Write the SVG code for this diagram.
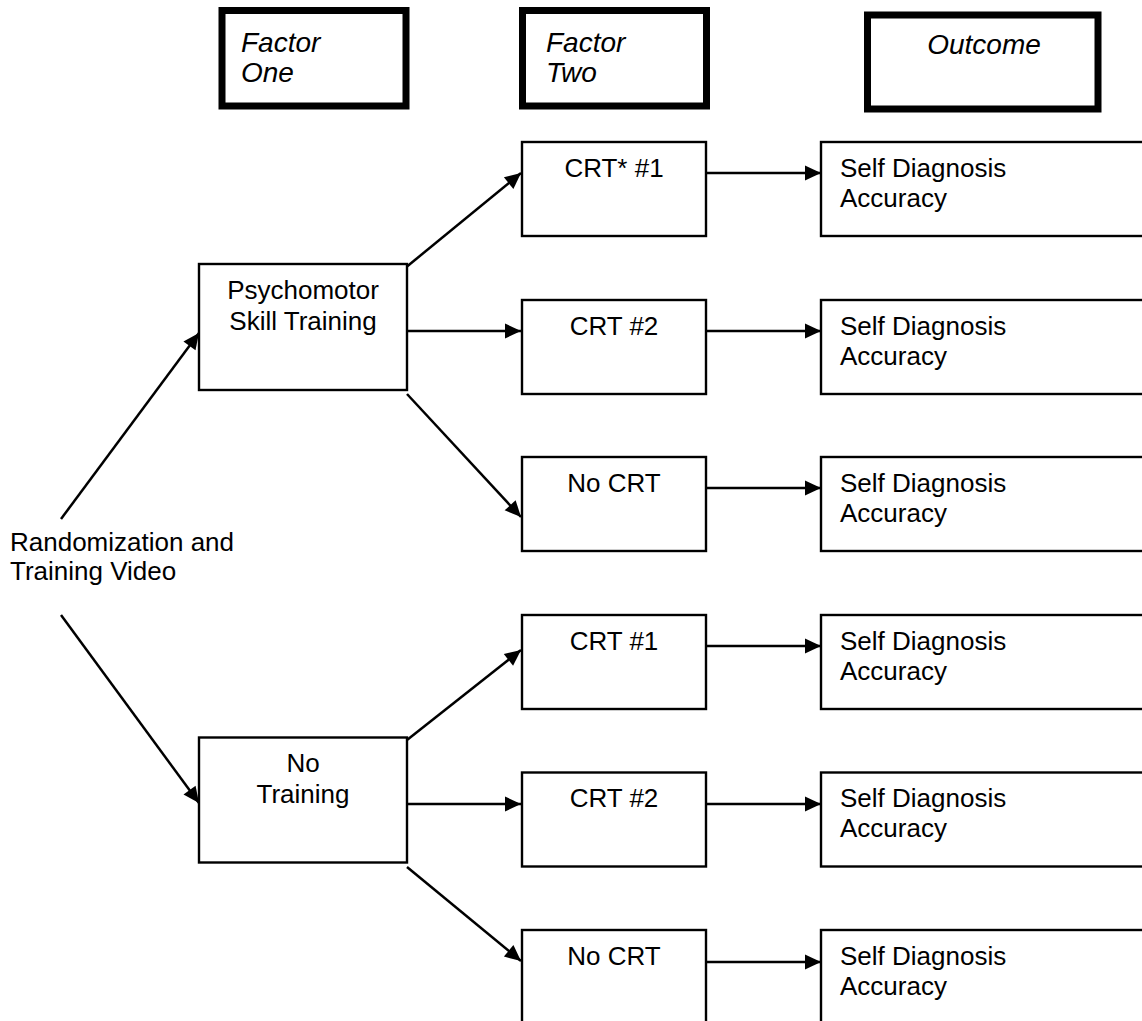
<svg xmlns="http://www.w3.org/2000/svg" width="1142" height="1021" viewBox="0 0 1142 1021">
<style>
  .box{fill:#fff;stroke:#000;stroke-width:2.4}
  .hdr{fill:#fff;stroke:#000;stroke-width:7}
  .t{font-family:"Liberation Sans",Arial,sans-serif;font-size:26px;fill:#000}
  .c{text-anchor:middle}
  .h{font-family:"Liberation Sans",Arial,sans-serif;font-size:28px;font-style:italic;fill:#000}
  .ln{stroke:#000;stroke-width:2.5;fill:none;marker-end:url(#ah)}
</style>
<defs>
  <marker id="ah" markerUnits="userSpaceOnUse" markerWidth="16" markerHeight="15" refX="16" refY="7.5" orient="auto" overflow="visible">
    <path d="M0,0 L16,7.5 L0,15 z" fill="#000"/>
  </marker>
</defs>
<rect width="1142" height="1021" fill="#fff"/>

<g id="hdr-factor-one">
  <rect class="hdr" x="222" y="10.5" width="184" height="95.5"/>
  <text class="h" x="241" y="52">Factor</text>
  <text class="h" x="241" y="82">One</text>
</g>
<g id="hdr-factor-two">
  <rect class="hdr" x="522.5" y="10.5" width="184" height="95.5"/>
  <text class="h" x="546" y="52">Factor</text>
  <text class="h" x="546" y="82">Two</text>
</g>
<g id="hdr-outcome">
  <rect class="hdr" x="867.5" y="15" width="230.5" height="94"/>
  <text class="h c" x="984" y="54">Outcome</text>
</g>

<g id="connectors">
  <line class="ln" x1="61" y1="519" x2="199" y2="333"/>
  <line class="ln" x1="61" y1="615" x2="199" y2="803"/>
  <line class="ln" x1="407" y1="266.5" x2="521" y2="173"/>
  <line class="ln" x1="407" y1="331" x2="521" y2="331"/>
  <line class="ln" x1="407" y1="394" x2="521" y2="517"/>
  <line class="ln" x1="407" y1="740" x2="521" y2="650"/>
  <line class="ln" x1="407" y1="804" x2="521" y2="804"/>
  <line class="ln" x1="407" y1="867" x2="521" y2="961"/>
  <line class="ln" x1="706" y1="173" x2="821" y2="173"/>
  <line class="ln" x1="706" y1="331" x2="821" y2="331"/>
  <line class="ln" x1="706" y1="488" x2="821" y2="488"/>
  <line class="ln" x1="706" y1="646" x2="821" y2="646"/>
  <line class="ln" x1="706" y1="804" x2="821" y2="804"/>
  <line class="ln" x1="706" y1="962" x2="821" y2="962"/>
</g>

<g id="randomization">
  <text class="t" x="10" y="551">Randomization and</text>
  <text class="t" x="10" y="580">Training Video</text>
</g>

<g id="psychomotor">
  <rect class="box" x="199" y="264" width="208" height="126"/>
  <text class="t c" x="303" y="299">Psychomotor</text>
  <text class="t c" x="303" y="330">Skill Training</text>
</g>
<g id="no-training">
  <rect class="box" x="199" y="737.5" width="208" height="125"/>
  <text class="t c" x="303" y="772">No</text>
  <text class="t c" x="303" y="803">Training</text>
</g>

<g id="crt1-a">
  <rect class="box" x="522" y="142" width="184" height="94"/>
  <text class="t c" x="614" y="177">CRT* #1</text>
</g>
<g id="crt2-a">
  <rect class="box" x="522" y="300" width="184" height="94"/>
  <text class="t c" x="614" y="335">CRT #2</text>
</g>
<g id="nocrt-a">
  <rect class="box" x="522" y="457" width="184" height="94"/>
  <text class="t c" x="614" y="492">No CRT</text>
</g>
<g id="crt1-b">
  <rect class="box" x="522" y="615" width="184" height="94"/>
  <text class="t c" x="614" y="650">CRT #1</text>
</g>
<g id="crt2-b">
  <rect class="box" x="522" y="772.5" width="184" height="94"/>
  <text class="t c" x="614" y="807">CRT #2</text>
</g>
<g id="nocrt-b">
  <rect class="box" x="522" y="930" width="184" height="94"/>
  <text class="t c" x="614" y="965">No CRT</text>
</g>

<g id="outcome-1">
  <rect class="box" x="821" y="142" width="330" height="94"/>
  <text class="t" x="840" y="177">Self Diagnosis</text>
  <text class="t" x="840" y="207">Accuracy</text>
</g>
<g id="outcome-2">
  <rect class="box" x="821" y="300" width="330" height="94"/>
  <text class="t" x="840" y="335">Self Diagnosis</text>
  <text class="t" x="840" y="365">Accuracy</text>
</g>
<g id="outcome-3">
  <rect class="box" x="821" y="457" width="330" height="94"/>
  <text class="t" x="840" y="492">Self Diagnosis</text>
  <text class="t" x="840" y="522">Accuracy</text>
</g>
<g id="outcome-4">
  <rect class="box" x="821" y="615" width="330" height="94"/>
  <text class="t" x="840" y="650">Self Diagnosis</text>
  <text class="t" x="840" y="680">Accuracy</text>
</g>
<g id="outcome-5">
  <rect class="box" x="821" y="772.5" width="330" height="94"/>
  <text class="t" x="840" y="807">Self Diagnosis</text>
  <text class="t" x="840" y="837">Accuracy</text>
</g>
<g id="outcome-6">
  <rect class="box" x="821" y="930" width="330" height="94"/>
  <text class="t" x="840" y="965">Self Diagnosis</text>
  <text class="t" x="840" y="995">Accuracy</text>
</g>
</svg>
